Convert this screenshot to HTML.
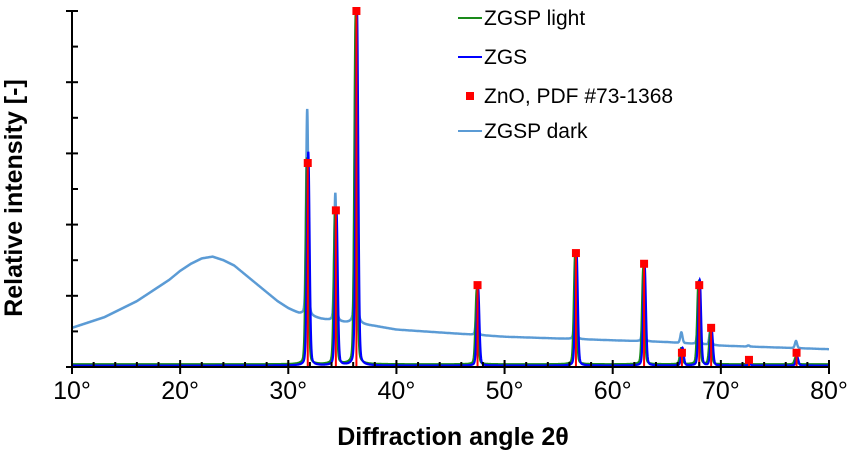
<!DOCTYPE html>
<html><head><meta charset="utf-8"><style>
body{margin:0;background:#fff;}
svg{display:block;font-family:"Liberation Sans",Arial,sans-serif;}
</style></head><body>
<svg id="c" width="851" height="455"></svg>
<script>
const peakPos = [31.8, 34.4, 36.3, 47.5, 56.6, 62.9, 66.4, 68.0, 69.1, 72.6, 77.0];
const znoHeights = [57.3, 44, 100, 23, 32, 29, 4, 23, 11, 2, 4];
const zgsHeights = [60, 44, 100, 22, 32, 28, 5, 24, 10, 0.5, 2.5];
const lightHeights = [58, 43, 98, 21, 31, 27, 4.5, 23, 9, 0.5, 2];
const darkPeakHeights = [58, 36, 86, 8, 15, 12, 3, 12, 5, 0.3, 2];
const darkBgAngles = [10, 11, 12, 13, 14, 15, 16, 17, 18, 19, 20, 21, 22, 23, 24, 25, 26, 27, 28, 29, 30, 31, 33, 35, 38, 40, 45, 50, 55, 60, 65, 70, 75, 80];
const darkBgValues = [11, 12, 13, 14, 15.5, 17, 18.5, 20.5, 22.5, 24.5, 27, 29, 30.5, 31, 30, 28.5, 26, 23.5, 21, 18.5, 16.5, 15, 13.5, 12.5, 11.5, 10.5, 9.5, 8.5, 8, 7.5, 7, 6, 5.5, 5];
const xTicks = [10, 20, 30, 40, 50, 60, 70, 80];

const NS = "http://www.w3.org/2000/svg";
const svg = document.getElementById('c');
const X0 = 72, X1 = 829, Y0 = 367, Y1 = 11;
const xs = v => X0 + (v - 10) / 70 * (X1 - X0);
const ys = v => Y0 - v / 100 * (Y0 - Y1);
function mk(tag, attrs, parent) {
  const e = document.createElementNS(NS, tag);
  for (const k in attrs) e.setAttribute(k, attrs[k]);
  (parent || svg).appendChild(e);
  return e;
}
function bgAt(a) {
  for (let i = 0; i < darkBgAngles.length - 1; i++) {
    if (a >= darkBgAngles[i] && a <= darkBgAngles[i + 1]) {
      const t = (a - darkBgAngles[i]) / (darkBgAngles[i + 1] - darkBgAngles[i]);
      return darkBgValues[i] + t * (darkBgValues[i + 1] - darkBgValues[i]);
    }
  }
  return darkBgValues[darkBgValues.length - 1];
}
function curve(heights, shift, w, base, bgFn) {
  let d = "";
  for (let a = 10; a <= 80.001; a += 0.01) {
    let v = bgFn ? bgFn(a) : base;
    for (let i = 0; i < peakPos.length; i++) {
      const u = (a - peakPos[i] - shift) / w;
      v += heights[i] * (0.8 * Math.exp(-u * u * 0.69) + 0.2 / (1 + u * u));
    }
    if (v > 100) v = 100;
    d += (d ? "L" : "M") + xs(a).toFixed(2) + "," + ys(v).toFixed(1);
  }
  return d;
}
const dark = mk('path', {d: curve(darkPeakHeights, -0.05, 0.12, 0, bgAt), fill: 'none', stroke: '#5b9bd5', 'stroke-width': 2.4});


const light = mk('path', {d: curve(lightHeights, -0.08, 0.14, 0.8), fill: 'none', stroke: '#1a8a1a', 'stroke-width': 2});


const zgs = mk('path', {d: curve(zgsHeights, 0.05, 0.14, 0.4), fill: 'none', stroke: '#0000ff', 'stroke-width': 2.2});


for (let i = 0; i < peakPos.length; i++) {
  const x = xs(peakPos[i]), y = ys(znoHeights[i]);
  const s = mk('line', {x1: x, x2: x, y1: y, y2: Y0, stroke: '#ff0000', 'stroke-width': 2});
  
  
  const m = mk('rect', {x: x - 4, y: y - 4, width: 8, height: 8, fill: '#ff0000'});
  
  
}
const ax = mk('g', {stroke: '#000', 'stroke-width': 2});


mk('line', {x1: X0, x2: X0, y1: Y1, y2: Y0}, ax);
mk('line', {x1: X0, x2: X1, y1: Y0, y2: Y0}, ax);
for (let k = 0; k <= 10; k++) {
  const y = Y0 - k * (Y0 - Y1) / 10;
  if (k % 2 === 0) mk('line', {x1: X0 - 6, x2: X0 + 6, y1: y, y2: y}, ax);
  else mk('line', {x1: X0, x2: X0 + 6, y1: y, y2: y}, ax);
}
for (let a = 10; a <= 80; a += 2) {
  const x = xs(a);
  if (a % 10 === 0) mk('line', {x1: x, x2: x, y1: Y0 - 7, y2: Y0 + 7}, ax);
  else mk('line', {x1: x, x2: x, y1: Y0 - 5, y2: Y0}, ax);
}
for (const t of xTicks) {
  const tx = mk('text', {x: xs(t), y: 399, 'font-size': 25, 'text-anchor': 'middle', fill: '#000'});
  tx.textContent = t + '°';
  
  
}
const xt = mk('text', {x: 453, y: 445, 'font-size': 25, 'font-weight': 'bold', 'text-anchor': 'middle'});
xt.textContent = 'Diffraction angle 2θ';


const yt = mk('text', {x: 0, y: 0, 'font-size': 25, 'font-weight': 'bold', 'text-anchor': 'middle', transform: 'translate(22,198) rotate(-90)'});
yt.textContent = 'Relative intensity [-]';


const lg = mk('g', {});


const leg = [['ZGSP light', '#1a8a1a', 'line', 18], ['ZGS', '#0000ff', 'line', 57], ['ZnO, PDF #73-1368', '#ff0000', 'sq', 96], ['ZGSP dark', '#5b9bd5', 'line', 131]];
for (const [label, col, kind, y] of leg) {
  const g = mk('g', {}, lg);
  
  
  if (kind === 'line') mk('line', {x1: 458, x2: 482, y1: y, y2: y, stroke: col, 'stroke-width': 2}, g);
  else mk('rect', {x: 466, y: y - 4, width: 8, height: 8, fill: col}, g);
  const t = mk('text', {x: 484, y: y + 7, 'font-size': 21}, g);
  t.textContent = label;
}
</script>
</body></html>
